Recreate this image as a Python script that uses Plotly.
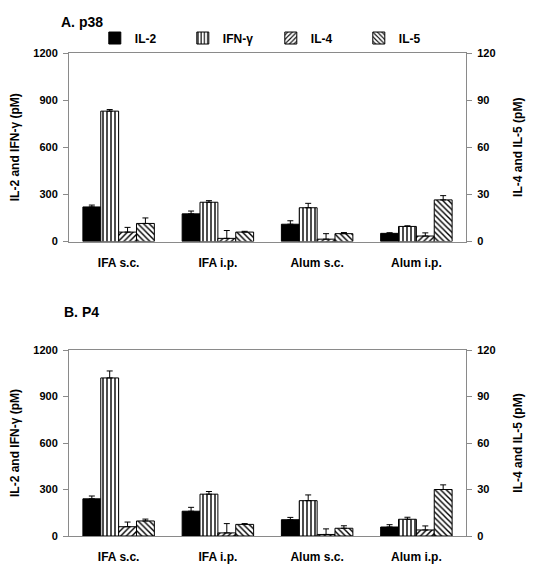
import plotly.graph_objects as go
from plotly.subplots import make_subplots

categories = ["IFA s.c.", "IFA i.p.", "Alum s.c.", "Alum i.p."]
series_names = ["IL-2", "IFN-γ", "IL-4", "IL-5"]

# Panel A: p38
p38_il2 = [220, 176, 110, 52]
p38_il2_err = [12, 18, 22, 4]
p38_ifng = [830, 250, 215, 96]
p38_ifng_err = [10, 10, 28, 4]
p38_il4 = [6, 2, 1.5, 3.5]
p38_il4_err = [3, 5, 3.5, 2]
p38_il5 = [11.5, 6, 5, 26.5]
p38_il5_err = [3.5, 0.5, 0.7, 2.7]

# Panel B: P4
p4_il2 = [240, 160, 105, 58]
p4_il2_err = [18, 25, 15, 15]
p4_ifng = [1020, 270, 228, 108]
p4_ifng_err = [45, 17, 37, 13]
p4_il4 = [6, 2, 1, 3.9]
p4_il4_err = [3, 6, 3.6, 2.6]
p4_il5 = [9.7, 7.5, 5, 30]
p4_il5_err = [1.2, 0.5, 1.6, 3]

left_ticks = [0, 300, 600, 900, 1200]
right_ticks = [0, 30, 60, 90, 120]

FONT = "Liberation Sans, Arial, sans-serif"
AXIS_GRAY = "#8a8a8a"

styles = [
    dict(color="black", pattern=dict(shape="")),
    dict(color="white", pattern=dict(shape="|", size=4, solidity=0.35, fgcolor="black", bgcolor="white", fillmode="replace")),
    dict(color="white", pattern=dict(shape="/", size=4, solidity=0.35, fgcolor="black", bgcolor="white", fillmode="replace")),
    dict(color="white", pattern=dict(shape="\\", size=4, solidity=0.35, fgcolor="black", bgcolor="white", fillmode="replace")),
]
offsets = [-0.36, -0.18, 0.0, 0.18]
secondary = [False, False, True, True]

fig = make_subplots(rows=2, cols=1, specs=[[{"secondary_y": True}], [{"secondary_y": True}]],
                    vertical_spacing=0.0)

panels = [
    (1, [p38_il2, p38_ifng, p38_il4, p38_il5], [p38_il2_err, p38_ifng_err, p38_il4_err, p38_il5_err]),
    (2, [p4_il2, p4_ifng, p4_il4, p4_il5], [p4_il2_err, p4_ifng_err, p4_il4_err, p4_il5_err]),
]

for row, vals, errs in panels:
    for i, name in enumerate(series_names):
        st = styles[i]
        fig.add_trace(
            go.Bar(
                x=categories, y=vals[i], name=name,
                offset=offsets[i], width=0.18,
                marker=dict(color=st["color"], pattern=st["pattern"],
                            line=dict(color="black", width=1)),
                error_y=dict(type="data", array=errs[i], arrayminus=[0] * 4, symmetric=False,
                             color="black", thickness=1, width=3),
                showlegend=(row == 1), legendgroup=name,
            ),
            row=row, col=1, secondary_y=secondary[i],
        )

# page body has an 8px margin, so the figure is drawn 8px in and 8px down
fig.update_layout(
    width=535, height=567,
    margin=dict(l=61, r=77, t=45, b=39, autoexpand=False),
    paper_bgcolor="white", plot_bgcolor="white",
    barmode="overlay",
    font=dict(family=FONT, size=11, color="black"),
    legend=dict(orientation="h", x=0.065, y=1.031, xanchor="left", yanchor="middle",
                font=dict(family=FONT, size=12, color="black", weight="bold"),
                entrywidth=43, bgcolor="rgba(0,0,0,0)"),
    annotations=[
        dict(text="<b>A. p38</b>", xref="paper", yref="paper", x=-0.025, y=1.064,
             xanchor="left", yanchor="middle", showarrow=False, font=dict(size=14, family=FONT)),
        dict(text="<b>B. P4</b>", xref="paper", yref="paper", x=-0.017, y=0.464,
             xanchor="left", yanchor="middle", showarrow=False, font=dict(size=14, family=FONT)),
    ],
)

# domains
fig.update_xaxes(domain=[0.0, 1.0])
fig.update_yaxes(domain=[0.6097, 1.0], row=1, col=1)
fig.update_yaxes(domain=[0.0, 0.385], row=2, col=1)

for row in (1, 2):
    fig.update_xaxes(row=row, col=1, showline=True, linecolor=AXIS_GRAY, linewidth=1, mirror=True,
                     ticks="", showgrid=False, range=[-0.5, 3.5],
                     tickfont=dict(family=FONT, size=12, weight="bold"), ticklabelstandoff=10)
    fig.update_yaxes(row=row, col=1, secondary_y=False, range=[0, 1200], tickvals=left_ticks,
                     showline=True, linecolor=AXIS_GRAY, linewidth=1, ticks="outside", ticklen=5,
                     tickcolor=AXIS_GRAY, showgrid=False, zeroline=False,
                     tickfont=dict(family=FONT, size=11, weight="bold"), ticklabelstandoff=3,
                     title=dict(text="IL-2 and IFN-γ (pM)", font=dict(family=FONT, size=12, weight="bold"), standoff=12))
    fig.update_yaxes(row=row, col=1, secondary_y=True, range=[0, 120], tickvals=right_ticks,
                     showline=True, linecolor=AXIS_GRAY, linewidth=1, ticks="outside", ticklen=5,
                     tickcolor=AXIS_GRAY, showgrid=False, zeroline=False,
                     tickfont=dict(family=FONT, size=11, weight="bold"), ticklabelstandoff=3,
                     title=dict(text="IL-4 and IL-5 (pM)", font=dict(family=FONT, size=12, weight="bold"), standoff=19))

fig.write_html("out.html")
